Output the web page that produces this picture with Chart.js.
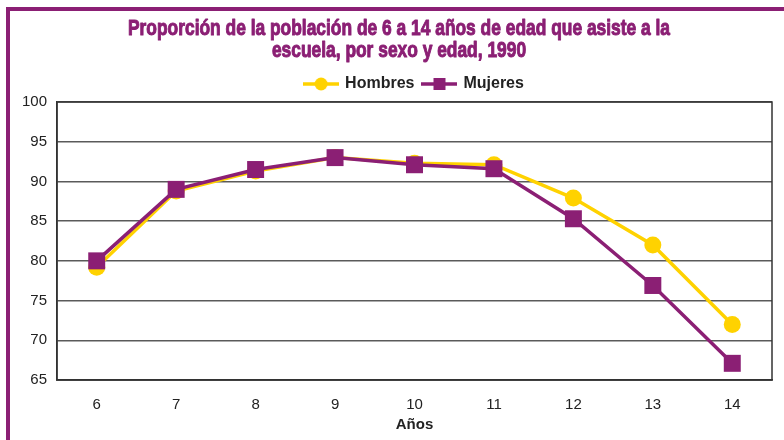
<!DOCTYPE html>
<html>
<head>
<meta charset="utf-8">
<script src="https://cdn.jsdelivr.net/npm/chart.js@4/dist/chart.umd.min.js"></script>
<style>
  html, body { margin: 0; padding: 0; background: #fff; }
  #wrap { position: relative; width: 784px; height: 440px; overflow: hidden; }
  #frame { position: absolute; left: 6px; top: 7px; width: 900px; height: 600px;
           border-left: 4px solid #8B1F74; border-top: 4px solid #8B1F74; box-sizing: border-box; }
  canvas { position: absolute; left: 0; top: 0; }
</style>
</head>
<body>
<div id="wrap">
  <div id="frame"></div>
  <canvas id="c" width="784" height="440"></canvas>
</div>
<script>
const titleLines = ['Proporción de la población de 6 a 14 años de edad que asiste a la', 'escuela, por sexo y edad, 1990'];
const categories = ['6', '7', '8', '9', '10', '11', '12', '13', '14'];
const hombres = [79.2, 88.8, 91.3, 93.0, 92.3, 92.1, 87.9, 82.0, 72.0];
const mujeres = [80.0, 89.0, 91.5, 93.0, 92.1, 91.6, 85.3, 76.9, 67.1];
const seriesNames = ['Hombres', 'Mujeres'];
const yTicks = [65, 70, 75, 80, 85, 90, 95, 100];
const xTitle = 'Años';

const YELLOW = '#FFD200';
const PURPLE = '#8B1F74';

function legendIcon(color, shape) {
  const cv = document.createElement('canvas');
  cv.width = 36; cv.height = 16;
  const g = cv.getContext('2d');
  g.strokeStyle = color; g.lineWidth = 3.5;
  g.beginPath(); g.moveTo(0, 8); g.lineTo(36, 8); g.stroke();
  g.fillStyle = color;
  if (shape === 'circle') { g.beginPath(); g.arc(18, 8, 6.5, 0, Math.PI * 2); g.fill(); }
  else { g.fillRect(12, 2, 12, 12); }
  return cv;
}
const icons = [legendIcon(YELLOW, 'circle'), legendIcon(PURPLE, 'rect')];

// Condensed title drawn as real text (horizontally compressed bold sans)
const condensedTitle = {
  id: 'condensedTitle',
  afterDraw(chart) {
    const ctx = chart.ctx;
    ctx.save();
    ctx.font = "bold 22px 'Liberation Sans', Arial, sans-serif";
    ctx.fillStyle = PURPLE;
    ctx.strokeStyle = PURPLE;
    ctx.lineWidth = 1;
    ctx.lineJoin = 'round';
    ctx.textAlign = 'center';
    ctx.textBaseline = 'alphabetic';
    const w0 = ctx.measureText(titleLines[0]).width;
    const sx = 542 / w0;
    const cx = 399;
    const baselines = [35, 57];
    titleLines.forEach((line, i) => {
      ctx.save();
      ctx.translate(cx, baselines[i]);
      ctx.scale(sx, 1);
      ctx.fillText(line, 0, 0);
      ctx.strokeText(line, 0, 0);
      ctx.restore();
    });
    ctx.restore();
  }
};

const frameBorder = {
  id: 'frameBorder',
  afterDatasetsDraw(chart) {
    const a = chart.chartArea, ctx = chart.ctx;
    ctx.save();
    ctx.strokeStyle = '#333';
    ctx.lineWidth = 1.5;
    ctx.strokeRect(a.left, a.top, a.right - a.left, a.bottom - a.top);
    ctx.restore();
  }
};

new Chart(document.getElementById('c'), {
  type: 'line',
  data: {
    labels: categories,
    datasets: [
      { label: seriesNames[0], data: hombres, borderColor: YELLOW, backgroundColor: YELLOW,
        borderWidth: 3.5, pointStyle: 'circle', pointRadius: 8.5, pointHoverRadius: 8.5,
        pointBorderWidth: 0, order: 1, tension: 0 },
      { label: seriesNames[1], data: mujeres, borderColor: PURPLE, backgroundColor: PURPLE,
        borderWidth: 3.5, pointStyle: 'rect', pointRadius: 12, pointHoverRadius: 12,
        pointBorderWidth: 0, order: 0, tension: 0 }
    ]
  },
  options: {
    responsive: false,
    animation: false,
    events: [],
    layout: { padding: { left: 20, right: 9, top: 67, bottom: 0 } },
    plugins: {
      tooltip: { enabled: false },
      title: { display: false },
      legend: {
        display: true,
        position: 'top',
        fullSize: false,
        labels: {
          usePointStyle: true,
          pointStyleWidth: 32,
          padding: 9,
          color: '#222',
          font: { family: "'Liberation Sans', Arial, sans-serif", size: 16, weight: 'bold' },
          generateLabels(chart) {
            return chart.data.datasets.map((ds, i) => ({
              text: ds.label, datasetIndex: i, pointStyle: icons[i],
              fillStyle: ds.borderColor, strokeStyle: ds.borderColor, lineWidth: 0,
              fontColor: '#222', hidden: false
            }));
          },
          sort: (a, b) => a.datasetIndex - b.datasetIndex
        }
      }
    },
    scales: {
      x: {
        type: 'category',
        offset: true,
        grid: { display: false, drawTicks: false },
        border: { display: true, color: '#333', width: 1.5 },
        ticks: { color: '#222', padding: 16, font: { family: "'Liberation Sans', Arial, sans-serif", size: 15 } },
        title: { display: true, text: xTitle, color: '#222', padding: { top: 4, bottom: 6 },
                 font: { family: "'Liberation Sans', Arial, sans-serif", size: 15, weight: 'bold' } },
        afterFit(scale) { scale.height = 60; }
      },
      y: {
        min: 65, max: 100,
        afterBuildTicks(scale) { scale.ticks = yTicks.map(v => ({ value: v })); },
        grid: { display: true, color: '#5a5a5a', lineWidth: 1.5, drawTicks: false },
        border: { display: true, color: '#333', width: 1.5 },
        ticks: { color: '#222', padding: 10, font: { family: "'Liberation Sans', Arial, sans-serif", size: 15 } },
        afterFit(scale) { scale.width = 37; }
      }
    }
  },
  plugins: [frameBorder, condensedTitle]
});
</script>
</body>
</html>
